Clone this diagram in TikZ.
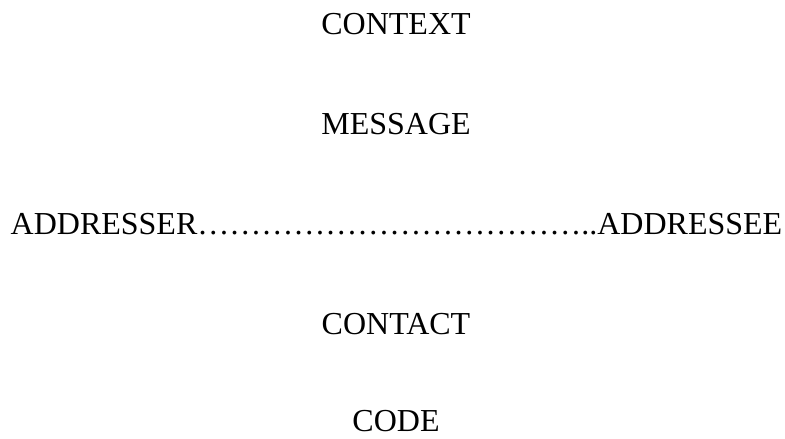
\documentclass[tikz,border=0pt]{standalone}
\usepackage{fontspec}
\setmainfont{Liberation Serif}
\def\ee{…}
\begin{document}
\begin{tikzpicture}[x=1pt,y=1pt,
  lbl/.style={inner sep=0pt, outer sep=0pt, anchor=base, font=\fontsize{32}{38}\selectfont}]
\useasboundingbox (0,0) rectangle (785,439);
\node[lbl] (context)   at (396,404) {CONTEXT};
\node[lbl] (message)   at (396,304) {MESSAGE};
\node[lbl] (addresser) at (396.5,204) {ADDRESSER\ee\ee\ee\ee\ee\ee\ee\ee\ee\ee\ee\ee..ADDRESSEE};
\node[lbl] (contact)   at (396,104) {CONTACT};
\node[lbl] (code)      at (396,7)   {CODE};
\end{tikzpicture}
\end{document}
